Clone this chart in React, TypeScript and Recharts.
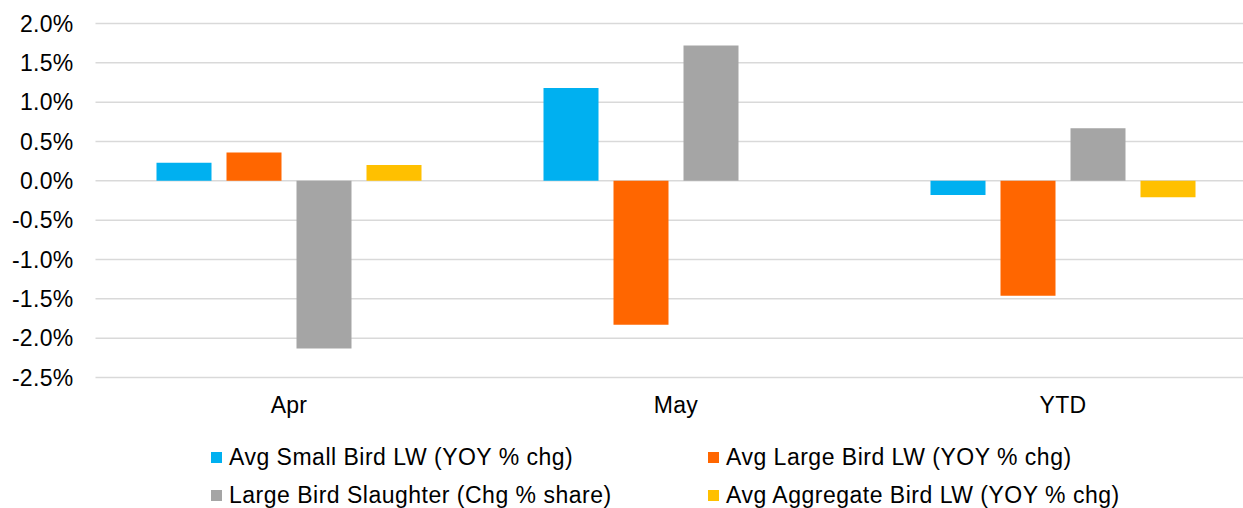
import { BarChart, Bar, XAxis, YAxis, CartesianGrid } from 'recharts'

const categories = ['Apr', 'May', 'YTD']
const smallBirdLW = [0.23, 1.18, -0.18]
const largeBirdLW = [0.36, -1.83, -1.46]
const largeBirdSlaughter = [-2.13, 1.72, 0.67]
const aggregateBirdLW = [0.2, null, -0.21]
const yTicks = [-2.5, -2.0, -1.5, -1.0, -0.5, 0, 0.5, 1.0, 1.5, 2.0]

const series = [
  { key: 'small', name: 'Avg Small Bird LW (YOY % chg)', color: '#00B0F0', values: smallBirdLW },
  { key: 'large', name: 'Avg Large Bird LW (YOY % chg)', color: '#FF6600', values: largeBirdLW },
  { key: 'slaughter', name: 'Large Bird Slaughter (Chg % share)', color: '#A5A5A5', values: largeBirdSlaughter },
  { key: 'aggregate', name: 'Avg Aggregate Bird LW (YOY % chg)', color: '#FFC000', values: aggregateBirdLW },
]

// one row per category for recharts
const data = categories.map((cat, i) => {
  const row: any = { cat }
  series.forEach(s => { row[s.key] = s.values[i] })
  return row
})

const FONT = '"Liberation Sans", Arial, sans-serif'
const tickStyle = { fontSize: 23, fill: '#000', fontFamily: FONT, letterSpacing: 0.3 }

// legend: two columns, two rows
const legendRows = [
  [series[0], series[1]],
  [series[2], series[3]],
]

export default function App() {
  return (
    <div style={{ position: 'absolute', left: 0, top: 0, width: 1243, height: 508, overflow: 'hidden', background: '#fff' }}>
      <BarChart
        width={1270}
        height={508}
        data={data}
        margin={{ top: 23.5, right: 13.5, left: 0, bottom: 90.5 }}
        barSize={55}
        barGap={15}
      >
        <CartesianGrid vertical={false} stroke="#d9d9d9" strokeWidth={1.5} />
        <XAxis
          dataKey="cat"
          axisLine={false}
          tickLine={false}
          height={40}
          tickMargin={13}
          tick={tickStyle}
        />
        <YAxis
          width={95.5}
          domain={[-2.5, 2]}
          ticks={yTicks}
          axisLine={false}
          tickLine={false}
          tickMargin={16}
          tick={tickStyle}
          tickFormatter={(v: number) => `${v.toFixed(1)}%`}
          interval={0}
        />
        {series.map(s => (
          <Bar key={s.key} dataKey={s.key} name={s.name} fill={s.color} isAnimationActive={false} />
        ))}
      </BarChart>

      <div style={{ position: 'absolute', left: 0, top: 443, width: 1243, fontFamily: FONT, fontSize: 23, letterSpacing: 0.5, color: '#000' }}>
        {legendRows.map((row, r) => (
          <div key={r} style={{ position: 'relative', height: 38 }}>
            {row.map((s, c) => (
              <div
                key={s.key}
                style={{ position: 'absolute', left: c === 0 ? 211 : 708, top: 0, height: 28, display: 'flex', alignItems: 'center', whiteSpace: 'nowrap' }}
              >
                <span style={{ display: 'inline-block', width: 11, height: 11, background: s.color, marginRight: 7 }} />
                <span>{s.name}</span>
              </div>
            ))}
          </div>
        ))}
      </div>
    </div>
  )
}
